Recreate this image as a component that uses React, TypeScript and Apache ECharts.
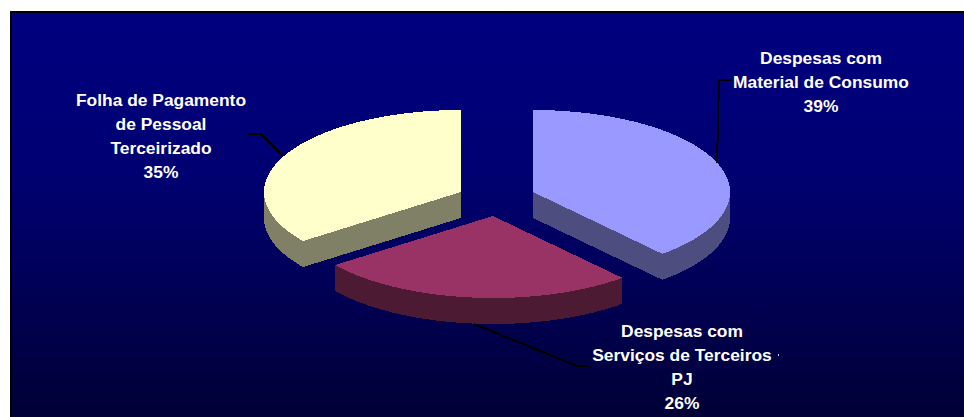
import React, { useEffect, useRef } from "react";
import * as echarts from "echarts";

// Data, clockwise from 12 o'clock
const sliceNames = [
  "Despesas com\nMaterial de Consumo",
  "Despesas com\nServiços de Terceiros\nPJ",
  "Folha de Pagamento\nde Pessoal\nTerceirizado",
];
const sliceValues = [38.6, 26.2, 35.2];
const topColors = ["#9999FF", "#993366", "#FFFFCC"];
const sideColors = ["#4D4D80", "#4D1A33", "#808066"];

// Layout
const W = 964;
const H = 417;
const PIE_CX = 496;
const PIE_CY = 197;
const RX = 197;
const RY = 82;
const DEPTH = 26;
const sliceOffsets = [[37, -5], [-3, 19], [-35, -5]];
const labelCenters = [[821, 82], [682, 367], [161, 136]];
const leaderLines = [
  [[717, 163], [719, 80], [732, 80]],
  [[474, 324], [577, 366], [589, 366]],
  [[283, 156], [261, 134], [248, 134]],
];

const total = sliceValues.reduce((a, b) => a + b, 0);

function onEllipse(cx: number, cy: number, deg: number): number[] {
  const t = (deg * Math.PI) / 180;
  return [cx + RX * Math.sin(t), cy - RY * Math.cos(t)];
}

function arcPoints(cx: number, cy: number, from: number, to: number): number[][] {
  const pts: number[][] = [];
  const n = Math.max(2, Math.ceil((to - from) / 1.5));
  for (let i = 0; i <= n; i++) pts.push(onEllipse(cx, cy, from + ((to - from) * i) / n));
  return pts;
}

function renderSlice(params: any, api: any) {
  const i = params.dataIndex;
  const value = api.value(0);
  const before = sliceValues.slice(0, i).reduce((a, b) => a + b, 0);
  const a0 = (before / total) * 360;
  const a1 = a0 + (value / total) * 360;
  const cx = PIE_CX + sliceOffsets[i][0];
  const cy = PIE_CY + sliceOffsets[i][1];
  const top = [[cx, cy], ...arcPoints(cx, cy, a0, a1)];
  const side = { fill: sideColors[i] };
  const children: any[] = [];

  const radialFace = (deg: number) => {
    const p = onEllipse(cx, cy, deg);
    children.push({
      type: "polygon",
      shape: { points: [[cx, cy], p, [p[0], p[1] + DEPTH], [cx, cy + DEPTH]] },
      style: side,
    });
  };
  radialFace(a0);
  radialFace(a1);

  const rimFrom = Math.max(a0, 90);
  const rimTo = Math.min(a1, 270);
  if (rimTo > rimFrom) {
    const upper = arcPoints(cx, cy, rimFrom, rimTo);
    const lower = upper.map((p) => [p[0], p[1] + DEPTH]).reverse();
    children.push({ type: "polygon", shape: { points: [...upper, ...lower] }, style: side });
  }
  children.push({ type: "polygon", shape: { points: top }, style: { fill: topColors[i] } });
  return { type: "group", children };
}

function buildOption() {
  const labels = sliceNames.map((name, i) => ({
    type: "text",
    z: 20,
    x: labelCenters[i][0],
    y: labelCenters[i][1],
    style: {
      text: `${name}\n${Math.round((sliceValues[i] / total) * 100)}%`,
      fill: "#FFFFFF",
      font: 'bold 17.4px "Liberation Sans", Arial, sans-serif',
      lineHeight: 23.7,
      align: "center",
      verticalAlign: "middle",
    },
  }));
  const leaders = leaderLines.map((pts) => ({
    type: "polyline",
    z: 20,
    shape: { points: pts },
    style: { stroke: "#000000", lineWidth: 2, fill: "none" },
  }));
  return {
    animation: false,
    graphic: {
      elements: [
        { type: "rect", z: 0, shape: { x: 10, y: 11, width: W - 10, height: H - 11 }, style: { fill: "#000000" } },
        {
          type: "rect",
          z: 1,
          shape: { x: 12, y: 13, width: W - 12, height: H - 13 },
          style: {
            fill: new echarts.graphic.LinearGradient(0, 0, 0, 1, [
              { offset: 0, color: "#000080" },
              { offset: 0.4, color: "#000072" },
              { offset: 1, color: "#000036" },
            ]),
          },
        },
      ],
    },
    series: [
      {
        type: "custom",
        coordinateSystem: "none",
        silent: true,
        z: 5,
        data: sliceValues.map((v) => [v]),
        renderItem: renderSlice,
      },
      {
        type: "custom",
        coordinateSystem: "none",
        silent: true,
        z: 10,
        data: [0],
        renderItem: () => ({
          type: "group",
          children: [
            ...leaders,
            ...labels,
            { type: "rect", shape: { x: 778, y: 354, width: 1, height: 2 }, style: { fill: "#C8C8E8" } },
          ],
        }),
      },
    ],
  };
}

export default function App() {
  const ref = useRef<HTMLDivElement>(null);
  useEffect(() => {
    document.body.style.margin = "0";
    document.body.style.background = "#FFFFFF";
    const chart = echarts.init(ref.current!, undefined, { renderer: "svg" });
    chart.setOption(buildOption() as any);
    return () => chart.dispose();
  }, []);
  return (
    <>
      <style>{"svg path { shape-rendering: crispEdges; }"}</style>
      <div ref={ref} style={{ width: W, height: H, overflow: "hidden" }} />
    </>
  );
}
